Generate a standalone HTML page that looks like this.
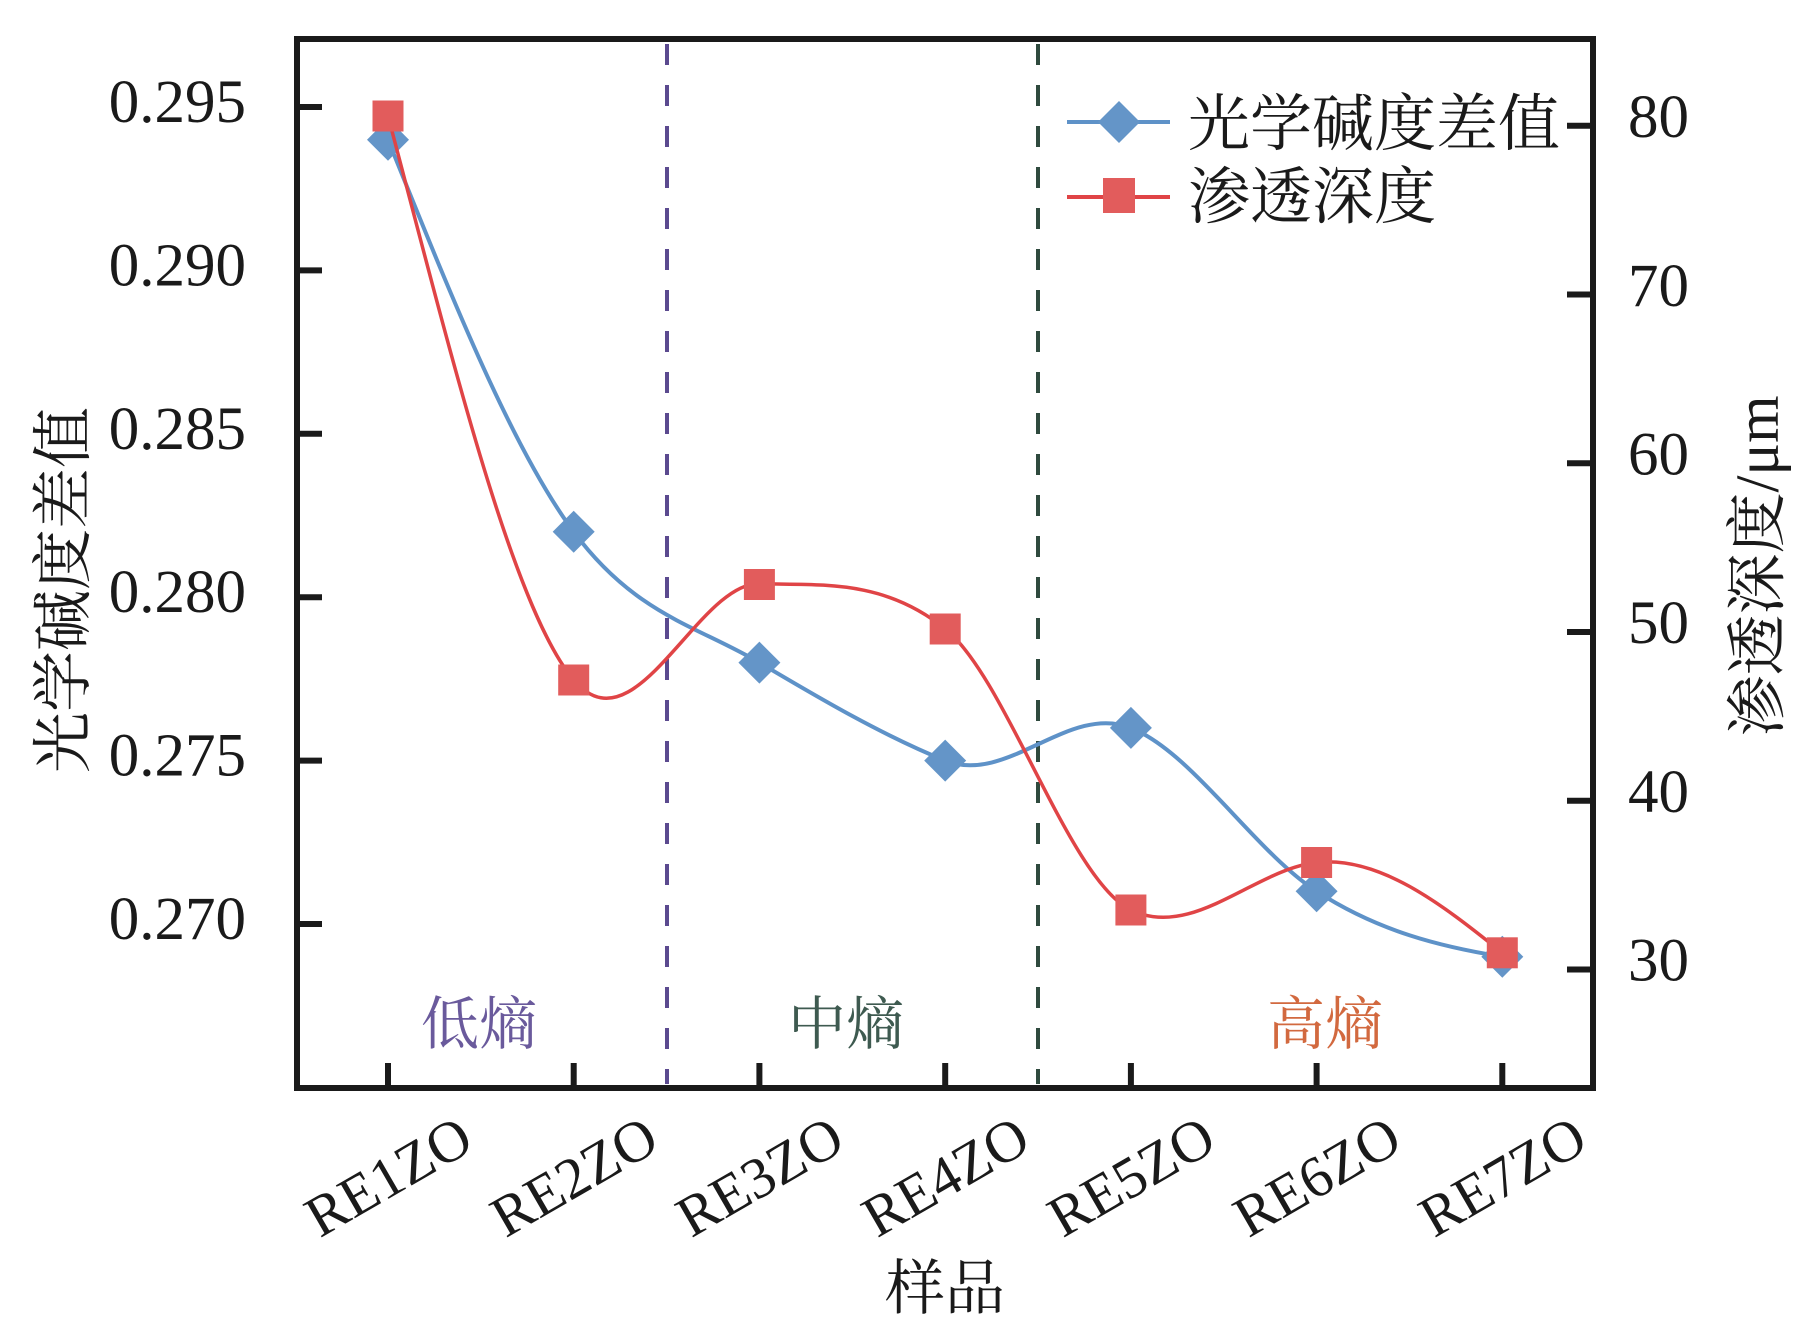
<!DOCTYPE html>
<html>
<head>
<meta charset="utf-8">
<style>
  html, body { margin: 0; padding: 0; background: #ffffff; }
  svg { display: block; }
  .num { font-family: "Liberation Serif", "Noto Serif CJK SC", serif; fill: #1a1a1a; }
  .cjk { font-family: "Liberation Serif", "Noto Serif CJK SC", serif; fill: #1a1a1a; }
</style>
</head>
<body>
<svg width="1818" height="1339" viewBox="0 0 1818 1339" xmlns="http://www.w3.org/2000/svg">
  <rect x="0" y="0" width="1818" height="1339" fill="#ffffff"/>

  <!-- region dashed separators -->
  <line x1="667" y1="44" x2="667" y2="1084" stroke="#5b4a8f" stroke-width="4" stroke-dasharray="21 20"/>
  <line x1="1038" y1="44" x2="1038" y2="1084" stroke="#2f4a3e" stroke-width="4" stroke-dasharray="21 20"/>

  <!-- region labels -->
  <text class="cjk" x="479" y="1044" font-size="58" text-anchor="middle" style="fill:#6a5a9c">低熵</text>
  <text class="cjk" x="846" y="1044" font-size="58" text-anchor="middle" style="fill:#3e5a50">中熵</text>
  <text class="cjk" x="1325" y="1044" font-size="58" text-anchor="middle" style="fill:#d2693f">高熵</text>

  <!-- blue series line -->
  <path d="M388,139.7 C449.9,293.0 511.8,448.5 573.7,531.8 C635.6,615.1 697.5,625.9 759.4,662.6 C821.3,699.3 883.3,735.6 945.2,760.6 C1007.1,785.6 1069.0,702.9 1130.9,727.9 C1192.8,752.9 1254.7,851.3 1316.6,891.3 C1378.5,931.3 1440.4,946.7 1502.3,956.7"
        fill="none" stroke="#5e92c8" stroke-width="4"/>
  <!-- blue markers -->
  <g fill="#6495c8">
    <polygon points="388,118.7 409,139.7 388,160.7 367,139.7"/>
    <polygon points="573.7,510.8 594.7,531.8 573.7,552.8 552.7,531.8"/>
    <polygon points="759.4,641.6 780.4,662.6 759.4,683.6 738.4,662.6"/>
    <polygon points="945.2,739.6 966.2,760.6 945.2,781.6 924.2,760.6"/>
    <polygon points="1130.9,706.9 1151.9,727.9 1130.9,748.9 1109.9,727.9"/>
    <polygon points="1316.6,870.3 1337.6,891.3 1316.6,912.3 1295.6,891.3"/>
    <polygon points="1502.3,935.7 1523.3,956.7 1502.3,977.7 1481.3,956.7"/>
  </g>

  <!-- red series line -->
  <path d="M388,116 C449.9,349.3 511.8,606.7 573.7,680 C635.6,753.3 697.5,582.0 759.4,583.7 C821.3,585.4 883.3,578.8 945.2,628.8 C1007.1,678.8 1069.0,880.0 1130.9,910 C1192.8,940.0 1254.7,869.2 1316.6,862.5 C1378.5,855.8 1440.4,902.8 1502.3,952.8"
        fill="none" stroke="#e04446" stroke-width="3.5"/>
  <!-- red markers -->
  <g fill="#e25c5c">
    <rect x="372.5" y="100.5" width="31" height="31"/>
    <rect x="558.2" y="664.5" width="31" height="31"/>
    <rect x="743.9" y="569" width="31" height="31"/>
    <rect x="929.7" y="613.5" width="31" height="31"/>
    <rect x="1115.4" y="894.5" width="31" height="31"/>
    <rect x="1301.1" y="847" width="31" height="31"/>
    <rect x="1486.8" y="937.3" width="31" height="31"/>
  </g>

  <!-- axes frame -->
  <rect x="297" y="39" width="1296" height="1049" fill="none" stroke="#1a1a1a" stroke-width="6"/>

  <!-- left ticks -->
  <g stroke="#1a1a1a" stroke-width="6">
    <line x1="297" y1="107" x2="322" y2="107"/>
    <line x1="297" y1="270.4" x2="322" y2="270.4"/>
    <line x1="297" y1="433.8" x2="322" y2="433.8"/>
    <line x1="297" y1="597.2" x2="322" y2="597.2"/>
    <line x1="297" y1="760.6" x2="322" y2="760.6"/>
    <line x1="297" y1="924" x2="322" y2="924"/>
    <!-- right ticks -->
    <line x1="1567" y1="125.7" x2="1593" y2="125.7"/>
    <line x1="1567" y1="294.5" x2="1593" y2="294.5"/>
    <line x1="1567" y1="463.2" x2="1593" y2="463.2"/>
    <line x1="1567" y1="632" x2="1593" y2="632"/>
    <line x1="1567" y1="800.7" x2="1593" y2="800.7"/>
    <line x1="1567" y1="969.5" x2="1593" y2="969.5"/>
    <!-- bottom ticks -->
    <line x1="388" y1="1063" x2="388" y2="1088"/>
    <line x1="573.7" y1="1063" x2="573.7" y2="1088"/>
    <line x1="759.4" y1="1063" x2="759.4" y2="1088"/>
    <line x1="945.2" y1="1063" x2="945.2" y2="1088"/>
    <line x1="1130.9" y1="1063" x2="1130.9" y2="1088"/>
    <line x1="1316.6" y1="1063" x2="1316.6" y2="1088"/>
    <line x1="1502.3" y1="1063" x2="1502.3" y2="1088"/>
  </g>

  <!-- left tick labels -->
  <g class="num" font-size="61" text-anchor="end">
    <text x="246" y="122">0.295</text>
    <text x="246" y="285.4">0.290</text>
    <text x="246" y="448.8">0.285</text>
    <text x="246" y="612.2">0.280</text>
    <text x="246" y="775.6">0.275</text>
    <text x="246" y="939">0.270</text>
  </g>

  <!-- right tick labels -->
  <g class="num" font-size="61" text-anchor="start">
    <text x="1628" y="137">80</text>
    <text x="1628" y="306">70</text>
    <text x="1628" y="474.5">60</text>
    <text x="1628" y="643">50</text>
    <text x="1628" y="812">40</text>
    <text x="1628" y="980.5">30</text>
  </g>

  <!-- x tick labels (rotated) -->
  <g class="num" font-size="58" text-anchor="middle">
    <text transform="translate(388,1176) rotate(-30)" y="20">RE1ZO</text>
    <text transform="translate(573.7,1176) rotate(-30)" y="20">RE2ZO</text>
    <text transform="translate(759.4,1176) rotate(-30)" y="20">RE3ZO</text>
    <text transform="translate(945.2,1176) rotate(-30)" y="20">RE4ZO</text>
    <text transform="translate(1130.9,1176) rotate(-30)" y="20">RE5ZO</text>
    <text transform="translate(1316.6,1176) rotate(-30)" y="20">RE6ZO</text>
    <text transform="translate(1502.3,1176) rotate(-30)" y="20">RE7ZO</text>
  </g>

  <!-- axis titles -->
  <text class="cjk" x="945" y="1309" font-size="60" text-anchor="middle">样品</text>
  <text class="cjk" transform="translate(84,590) rotate(-90)" font-size="61" text-anchor="middle">光学碱度差值</text>
  <text class="cjk" transform="translate(1778,566) rotate(-90)" font-size="61" text-anchor="middle">渗透深度/μm</text>

  <!-- legend -->
  <line x1="1067" y1="122" x2="1170" y2="122" stroke="#5e92c8" stroke-width="4"/>
  <polygon points="1119,101 1140,122 1119,143 1098,122" fill="#6495c8"/>
  <text class="cjk" x="1188" y="145" font-size="62">光学碱度差值</text>

  <line x1="1067" y1="197" x2="1170" y2="197" stroke="#e04446" stroke-width="4"/>
  <rect x="1103" y="178" width="32" height="35" fill="#e25c5c"/>
  <text class="cjk" x="1188" y="218" font-size="62">渗透深度</text>
</svg>
</body>
</html>
